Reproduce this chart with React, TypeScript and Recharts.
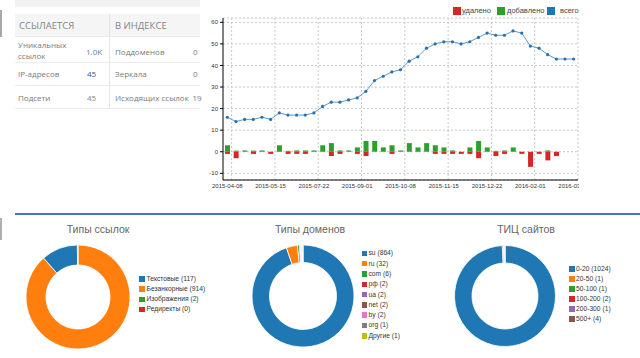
import React from 'react';
import {
  ComposedChart, Bar, Line, XAxis, YAxis, CartesianGrid, ReferenceLine,
  PieChart, Pie, Cell,
} from 'recharts';

// ---------- data ----------
const dateLabels = ['2015-04-08', '2015-05-15', '2015-07-22', '2015-09-01', '2015-10-08', '2015-11-15', '2015-12-22', '2016-02-01', '2016-03-10'];
const totalLinks = [16, 14, 15, 15, 16, 15, 18, 17, 17, 17, 18, 21, 23, 23, 24, 25, 28, 33, 35, 37, 38, 42, 44, 48, 50, 51, 51, 50, 51, 53, 55, 54, 54, 56, 55, 49, 48, 45, 43, 43, 43];
const addedLinks = [3, 0.5, 0.6, 0.5, 0.6, 0, 3, 0.4, 0.6, 0.6, 0.6, 3, 4, 0.6, 0.6, 2, 5, 5, 2, 3, 0.6, 4, 2, 4, 3, 2, 0.6, 0, 2, 5, 2, 0.4, 0.6, 2, 0, 0, 0, 0.6, 0, 0, 0];
const removedLinks = [-1, -3, 0, -1, 0, -1, 0, -1, -1, -1, 0, 0, -2, -1, 0, -1, -2, 0, 0, -1, 0, 0, 0, 0, -1, -1, -1, -1, -1, -3, 0, -2, -1, 0, -1, -7, -1, -4, -2, 0, 0];
const yTicks = [-10, 0, 10, 20, 30, 40, 50, 60];
const xLabelTicks = [0, 5, 10, 15, 20, 25, 30, 35, 40];
const xGridTicks = [0.5, 5.5, 10.5, 15.5, 20.5, 25.5, 30.5, 35.5, 40.5];

const linkTypeNames = ['Текстовые', 'Безанкорные', 'Изображения', 'Редиректы'];
const linkTypeValues = [117, 914, 2, 0];
const domainNames = ['su', 'ru', 'com', 'рф', 'ua', 'net', 'by', 'org', 'Другие'];
const domainValues = [864, 32, 6, 2, 2, 2, 2, 1, 1];
const ticNames = ['0-20', '20-50', '50-100', '100-200', '200-300', '500+'];
const ticValues = [1024, 1, 1, 2, 1, 4];

const palette = ['#1f77b4', '#ff7f0e', '#2ca02c', '#d62728', '#9467bd', '#8c564b', '#e377c2', '#7f7f7f', '#bcbd22'];

const mainRows = totalLinks.map((t, i) => ({ i, total: t, added: addedLinks[i], removed: removedLinks[i] }));

const FONT = '"Liberation Sans", Arial, sans-serif';
const OPEN = '"Open Sans", "Liberation Sans", Arial, sans-serif';

function pieRows(names: string[], values: number[]) {
  return names
    .map((n, k) => ({ name: n, value: values[k], color: palette[k], k }))
    .sort((a, b) => b.value - a.value || a.k - b.k);
}

const abs = (l: number, t: number, extra: React.CSSProperties = {}): React.CSSProperties => ({
  position: 'absolute', left: l, top: t, ...extra,
});

function Donut({ names, values, left, top, size, inner, outer }: any) {
  const rows = pieRows(names, values);
  return (
    <div style={abs(left, top, { width: size, height: size })}>
      <PieChart width={size} height={size} margin={{ top: 0, right: 0, bottom: 0, left: 0 }}>
        <Pie data={rows} dataKey="value" nameKey="name" cx={size / 2} cy={size / 2}
          innerRadius={inner} outerRadius={outer} startAngle={90} endAngle={-270}
          stroke="#ffffff" strokeWidth={0.8} isAnimationActive={false} legendType="none">
          {rows.map((r) => <Cell key={r.name} fill={r.color} />)}
        </Pie>
      </PieChart>
    </div>
  );
}

function PieLegend({ names, values, sqLeft, textLeft, firstY, step }: any) {
  return (
    <>
      {names.map((n: string, k: number) => (
        <React.Fragment key={n}>
          <div style={abs(sqLeft, firstY + k * step - 2.7, { width: 5.5, height: 5.5, background: palette[k] })} />
          <div style={abs(textLeft, firstY + k * step - 5, { fontSize: 6.7, lineHeight: '10px', color: '#333', whiteSpace: 'nowrap', fontFamily: FONT })}>
            {n} ({values[k]})
          </div>
        </React.Fragment>
      ))}
    </>
  );
}

function TableText({ l, cy, text, color = '#7a7a7a', size = 8, weight = 400 }: any) {
  return (
    <div style={abs(l, cy - 6, { fontSize: size, lineHeight: '12px', color, fontFamily: OPEN, whiteSpace: 'nowrap', fontWeight: weight })}>{text}</div>
  );
}

export default function App() {
  return (
    <div style={{ position: 'absolute', left: 0, top: 0, width: 640, height: 358, overflow: 'hidden', background: '#fff', fontFamily: FONT }}>
      {/* left edge strips */}
      <div style={abs(0, 10, { width: 2, height: 27, background: '#a8a8a8' })} />
      <div style={abs(0, 218, { width: 2, height: 22, background: '#b0b0b0' })} />

      {/* top-left card */}
      <div style={abs(15, 0, { width: 185, height: 7, background: '#f2f2f2' })} />
      <div style={abs(15, 14, { width: 190, height: 95, overflow: 'hidden' })}>
        <div style={abs(0, 0, { width: 185, height: 22, background: '#f5f5f5' })} />
        <div style={abs(94, 0, { width: 1, height: 95, background: '#e3e3e3' })} />
        <div style={abs(0, 22, { width: 185, height: 1, background: '#ececec' })} />
        <div style={abs(0, 48, { width: 185, height: 1, background: '#ececec' })} />
        <div style={abs(0, 71, { width: 185, height: 1, background: '#ececec' })} />
        <div style={abs(0, 94, { width: 185, height: 1, background: '#ececec' })} />
        <TableText l={4} cy={12} text="ССЫЛАЕТСЯ" size={9.5} color="#858585" />
        <TableText l={100} cy={12} text="В ИНДЕКСЕ" size={9.5} color="#858585" />
        <div style={abs(3, 25, { fontSize: 8, lineHeight: '11px', color: '#7a7a7a', fontFamily: OPEN })}>Уникальных<br />ссылок</div>
        <TableText l={71} cy={37.5} text="1.0K" color="#5d7ea3" />
        <TableText l={100} cy={37.5} text="Поддоменов" />
        <TableText l={178} cy={37.5} text="0" />
        <TableText l={3} cy={60} text="IP-адресов" />
        <TableText l={72} cy={60} text="45" color="#2d5686" />
        <TableText l={100} cy={60} text="Зеркала" />
        <TableText l={178} cy={60} text="0" />
        <TableText l={3} cy={83.5} text="Подсети" />
        <TableText l={72} cy={83.5} text="45" color="#7d8794" />
        <TableText l={100} cy={83.5} text="Исходящих ссылок" />
        <TableText l={177.5} cy={83.5} text="19" />
      </div>

      {/* main chart */}
      <div style={abs(180, 0, { width: 399, height: 200, overflow: 'hidden' })}>
        <ComposedChart width={399} height={200} data={mainRows} stackOffset="sign"
          margin={{ top: 18, right: 1, left: 0, bottom: 0 }}>
          <CartesianGrid vertical={false} stroke="#c8c8c8" strokeDasharray="2 2" />
          {xGridTicks.map((g) => (
            <ReferenceLine key={g} x={g} stroke="#c8c8c8" strokeDasharray="2 2" />
          ))}
          <XAxis type="number" dataKey="i" domain={[-0.5, 40.5]} ticks={xLabelTicks} interval={0}
            allowDataOverflow height={20} tickLine={false} tickSize={3} tickMargin={1}
            axisLine={{ stroke: '#000' }}
            tick={{ fontSize: 6, fill: '#333' }}
            tickFormatter={(v: number) => dateLabels[Math.round(v / 5)]} />
          <YAxis type="number" domain={[-13.1, 62]} ticks={yTicks} interval={0} allowDataOverflow
            width={43} tickSize={3} tickMargin={2} axisLine={{ stroke: '#000' }}
            tickLine={{ stroke: '#000' }} tick={{ fontSize: 6, fill: '#333' }} />
          <Bar dataKey="added" stackId="s" fill="#2ca02c" barSize={5} isAnimationActive={false} />
          <Bar dataKey="removed" stackId="s" fill="#d62728" barSize={5} isAnimationActive={false} />
          <Line dataKey="total" type="linear" stroke="#5b9bd0" strokeWidth={1}
            dot={{ r: 1.6, fill: '#2a70a8', stroke: 'none' }} activeDot={false} isAnimationActive={false} />
        </ComposedChart>
      </div>

      {/* main legend */}
      <div style={abs(453, 7, { width: 8, height: 8, background: '#d62728' })} />
      <div style={abs(462, 6, { fontSize: 7.5, lineHeight: '10px', color: '#444' })}>удалено</div>
      <div style={abs(497, 7, { width: 8, height: 8, background: '#2ca02c' })} />
      <div style={abs(507, 6, { fontSize: 7.5, lineHeight: '10px', color: '#444' })}>добавлено</div>
      <div style={abs(547, 7, { width: 8, height: 8, background: '#1f77b4' })} />
      <div style={abs(560, 6, { fontSize: 7.5, lineHeight: '10px', color: '#444' })}>всего</div>

      {/* separator */}
      <div style={abs(15, 213, { width: 625, height: 2, background: '#4a74c4' })} />

      {/* titles */}
      <div style={abs(48, 222, { width: 100, textAlign: 'center', fontSize: 10.5, lineHeight: '14px', color: '#666' })}>Типы ссылок</div>
      <div style={abs(260, 222, { width: 100, textAlign: 'center', fontSize: 10.5, lineHeight: '14px', color: '#666' })}>Типы доменов</div>
      <div style={abs(476, 222, { width: 100, textAlign: 'center', fontSize: 10.5, lineHeight: '14px', color: '#666' })}>ТИЦ сайтов</div>

      {/* donuts */}
      <Donut names={linkTypeNames} values={linkTypeValues} left={13} top={232} size={130} inner={32} outer={52} />
      <Donut names={domainNames} values={domainValues} left={238} top={230.5} size={130} inner={33.5} outer={51} />
      <Donut names={ticNames} values={ticValues} left={440} top={230.5} size={130} inner={33} outer={50.5} />

      <PieLegend names={linkTypeNames} values={linkTypeValues} sqLeft={139} textLeft={146.5} firstY={279} step={10.1} />
      <PieLegend names={domainNames} values={domainValues} sqLeft={361.5} textLeft={368.5} firstY={253.3} step={10.3} />
      <PieLegend names={ticNames} values={ticValues} sqLeft={569} textLeft={576} firstY={269} step={10} />
    </div>
  );
}
